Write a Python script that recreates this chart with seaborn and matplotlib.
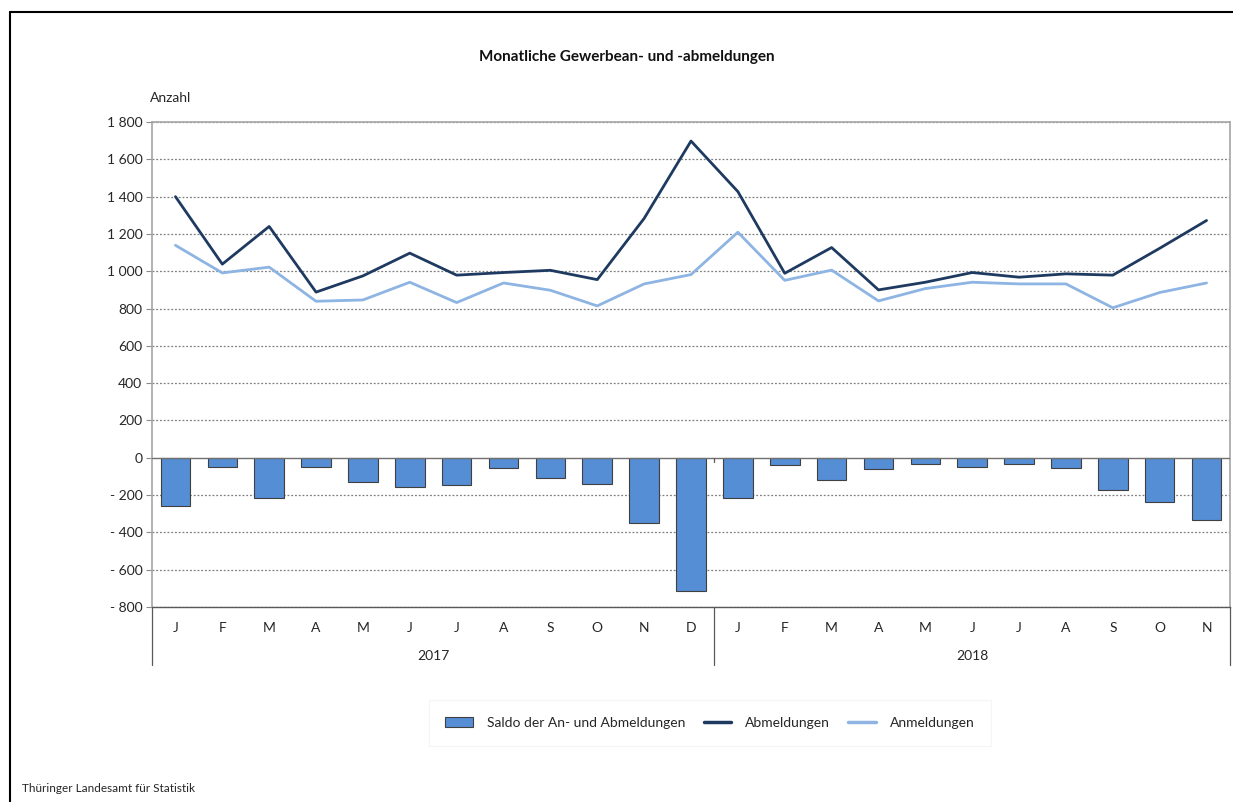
import matplotlib
matplotlib.use("Agg")
import matplotlib.pyplot as plt
import matplotlib.transforms as mtransforms
from matplotlib.lines import Line2D
from matplotlib.patches import Patch
import numpy as np
import pandas as pd
import seaborn as sns

# ── Data ─────────────────────────────────────────────────────────────────────
months = ["J", "F", "M", "A", "M", "J", "J", "A", "S", "O", "N", "D",
          "J", "F", "M", "A", "M", "J", "J", "A", "S", "O", "N"]
years = ["2017", "2018"]
months_per_year = [12, 11]

abmeldungen = [1400, 1038, 1240, 888, 975, 1097, 979, 993, 1005, 955, 1283, 1698,
               1427, 989, 1127, 900, 941, 993, 968, 986, 979, 1123, 1272]
anmeldungen = [1139, 991, 1022, 839, 846, 941, 832, 937, 898, 814, 932, 982,
               1209, 951, 1006, 841, 907, 941, 932, 932, 804, 886, 937]
saldo = [-261, -47, -218, -49, -129, -156, -147, -56, -107, -141, -351, -716,
         -218, -38, -121, -59, -34, -52, -36, -54, -175, -237, -335]

yticks = [-800, -600, -400, -200, 0, 200, 400, 600, 800, 1000, 1200, 1400, 1600, 1800]

C_BAR = "#558ED5"
C_ABM = "#1F3A60"
C_ANM = "#8DB4E2"

df = pd.DataFrame({
    "pos": np.arange(len(months)),
    "saldo": saldo,
    "abm": abmeldungen,
    "anm": anmeldungen,
})


def fmt_num(v):
    s = f"{abs(v):,}".replace(",", " ")
    return f"- {s}" if v < 0 else s


sns.set_theme(style="white")
plt.rcParams["font.family"] = ["Lato", "DejaVu Sans"]

fig = plt.figure(figsize=(12.33, 8.02), dpi=100)
ax = fig.add_axes([152 / 1233, 1 - 607 / 802, (1230 - 152) / 1233, (607 - 122) / 802])

# grid (dotted) except zero line
for v in yticks:
    if v == 0:
        continue
    ax.axhline(v, color="#7F7F7F", lw=0.9, ls=(0, (1.5, 1.5)), zorder=0)

sns.barplot(data=df, x="pos", y="saldo", color=C_BAR, width=0.63,
            edgecolor="#404040", linewidth=0.8, saturation=1, ax=ax, zorder=2)
ax.axhline(0, color="#707070", lw=1.0, zorder=3)

sns.lineplot(x=df["pos"], y=df["abm"], color=C_ABM, lw=2.0, ax=ax, zorder=4)
sns.lineplot(x=df["pos"], y=df["anm"], color=C_ANM, lw=2.0, ax=ax, zorder=4)

ax.set_xlim(-0.5, len(months) - 0.5)
ax.set_ylim(-800, 1800)
ax.set_yticks(yticks)
ax.set_yticklabels([fmt_num(v) for v in yticks], fontsize=10, color="#262626")
ax.tick_params(axis="y", length=4, width=0.8, color="#8C8C8C", pad=3, left=True)
ax.set_xticks(df["pos"])
ax.set_xticklabels(months, fontsize=10, color="#262626")
ax.tick_params(axis="x", length=0, pad=11)
ax.set_xlabel("")
ax.set_ylabel("")

for side in ["left", "right", "top"]:
    ax.spines[side].set_color("#A6A6A6")
    ax.spines[side].set_linewidth(1.2)
ax.spines["bottom"].set_color("#595959")
ax.spines["bottom"].set_linewidth(1.0)

# year separators and labels below axis
trans = mtransforms.blended_transform_factory(ax.transData, ax.transAxes)
bounds = np.concatenate([[0], np.cumsum(months_per_year)]) - 0.5
sep_bottom = -(665 - 607) / (607 - 122)
for b in bounds:
    ax.add_line(Line2D([b, b], [0, sep_bottom], transform=trans, color="#595959",
                       lw=0.9, clip_on=False))
# small tick on zero line at year boundary
for b in bounds[1:-1]:
    ax.plot([b, b], [0, -25], color="#595959", lw=0.9, zorder=3)
for i, yr in enumerate(years):
    mid = (bounds[i] + bounds[i + 1]) / 2
    ax.text(mid, -(656 - 607) / (607 - 122), yr, transform=trans, ha="center",
            va="center", fontsize=10, color="#262626")

# texts
fig.text(627 / 1233, 1 - 57 / 802, "Monatliche Gewerbean- und -abmeldungen",
         ha="center", va="center", fontsize=11, fontweight="bold", color="#111111")
fig.text(150 / 1233, 1 - 98 / 802, "Anzahl", ha="left", va="center",
         fontsize=10, color="#262626")
fig.text(22 / 1233, 1 - 788 / 802, "Thüringer Landesamt für Statistik",
         ha="left", va="center", fontsize=8.5, color="#262626")

# legend
handles = [
    Patch(facecolor=C_BAR, edgecolor="#404040", linewidth=0.8),
    Line2D([0], [0], color=C_ABM, lw=2.5),
    Line2D([0], [0], color=C_ANM, lw=2.5),
]
labels = ["Saldo der An- und Abmeldungen", "Abmeldungen", "Anmeldungen"]
leg = fig.legend(handles, labels, loc="center", bbox_to_anchor=(710 / 1233, 1 - 723 / 802),
                 ncol=3, frameon=True, fontsize=10, handlelength=2.0, columnspacing=1.3,
                 borderpad=1.2, fancybox=False, handletextpad=1.0)
leg.get_frame().set_edgecolor("#F3F3F3")
leg.get_frame().set_linewidth(0.8)
for t in leg.get_texts():
    t.set_color("#262626")

# outer frame
fig.add_artist(Line2D([10 / 1233, 10 / 1233], [0, 1 - 12 / 802], transform=fig.transFigure,
                      color="black", lw=1.5))
fig.add_artist(Line2D([10 / 1233, 1], [1 - 12 / 802, 1 - 12 / 802], transform=fig.transFigure,
                      color="black", lw=1.5))

fig.savefig("out.png", dpi=100)
